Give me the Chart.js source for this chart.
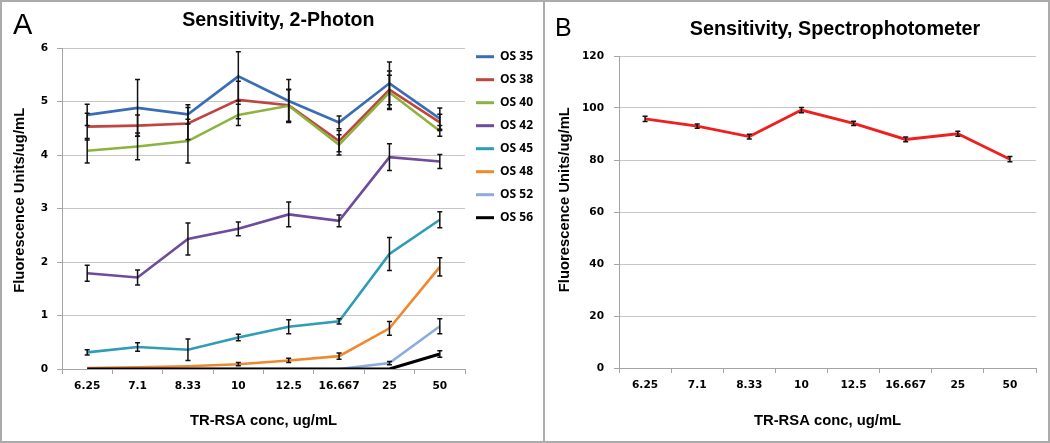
<!DOCTYPE html>
<html>
<head>
<meta charset="utf-8">
<script src="https://cdn.jsdelivr.net/npm/chart.js@4/dist/chart.umd.min.js"></script>
<style>
  html, body { margin:0; padding:0; background:#fff; }
  body { width:1050px; height:443px; position:relative; overflow:hidden; }
  canvas { position:absolute; top:0; }
  .frame { position:absolute; top:0; height:443px; box-sizing:border-box; border:2px solid #ABABAB; pointer-events:none; z-index:2; }
  .letter { position:absolute; font-family:"Liberation Sans", Arial, sans-serif; line-height:1; color:#000; z-index:3; }
</style>
</head>
<body>
<canvas id="chartA" width="543" height="443" style="left:0px"></canvas>
<canvas id="chartB" width="506" height="443" style="left:544px"></canvas>
<div class="frame" style="left:0px;width:545px;"></div>
<div class="frame" style="left:543px;width:507px;"></div>
<div class="letter" style="left:13px;top:10px;font-size:29px;">A</div>
<div class="letter" style="left:555px;top:15px;font-size:25px;">B</div>
<script>
// ---------- data ----------
const categories = ['6.25', '7.1', '8.33', '10', '12.5', '16.667', '25', '50'];
const seriesNames = ['OS 35', 'OS 38', 'OS 40', 'OS 42', 'OS 45', 'OS 48', 'OS 52', 'OS 56'];
const seriesColors = ['#3A6DB5', '#C0443F', '#8CB33E', '#6E4B9B', '#2E9DB5', '#F0882E', '#8FAADC', '#000000'];

const os35 = [4.75, 4.88, 4.76, 5.47, 5.01, 4.61, 5.34, 4.68];
const os38 = [4.53, 4.55, 4.59, 5.03, 4.93, 4.26, 5.22, 4.61];
const os40 = [4.08, 4.16, 4.26, 4.75, 4.92, 4.19, 5.17, 4.45];
const os42 = [1.79, 1.71, 2.43, 2.62, 2.89, 2.77, 3.96, 3.88];
const os45 = [0.31, 0.41, 0.36, 0.59, 0.79, 0.89, 2.15, 2.79];
const os48 = [0.02, 0.03, 0.05, 0.09, 0.16, 0.24, 0.76, 1.91];
const os52 = [0, 0, 0, 0, 0, 0, 0.11, 0.80];
const os56 = [0, 0, 0, 0, 0, 0, 0, 0.28];

const os35Err = [0.20, 0.53, 0.18, 0.46, 0.40, 0.12, 0.40, 0.20];
const os38Err = [0.25, 0.20, 0.30, 0.35, 0.30, 0.20, 0.35, 0.15];
const os40Err = [0.23, 0.25, 0.41, 0.20, 0.30, 0.19, 0.32, 0.10];
const os42Err = [0.15, 0.14, 0.30, 0.13, 0.23, 0.11, 0.25, 0.13];
const os45Err = [0.05, 0.08, 0.20, 0.06, 0.13, 0.05, 0.31, 0.15];
const os48Err = [0, 0, 0, 0.03, 0.04, 0.06, 0.13, 0.17];
const os52Err = [0, 0, 0, 0, 0, 0, 0.03, 0.14];
const os56Err = [0, 0, 0, 0, 0, 0, 0, 0.06];

const specValues = [95.8, 93.0, 89.0, 99.2, 94.1, 87.9, 90.1, 80.3];
const specErr = [1.0, 0.8, 0.9, 1.0, 0.8, 0.9, 1.0, 1.0];

const yTicksA = [0, 1, 2, 3, 4, 5, 6];
const yTicksB = [0, 20, 40, 60, 80, 100, 120];

const titleA = 'Sensitivity, 2-Photon';
const titleB = 'Sensitivity, Spectrophotometer';
const yTitle = 'Fluorescence Units/ug/mL';
const xTitle = 'TR-RSA conc, ug/mL';

// ---------- plugins ----------
const errorBars = {
  id: 'errorBars',
  afterDatasetsDraw(chart) {
    const ctx = chart.ctx;
    const y = chart.scales.y;
    ctx.save();
    ctx.strokeStyle = '#111';
    ctx.lineWidth = 1.5;
    chart.data.datasets.forEach((ds, di) => {
      if (!ds.errors) return;
      const meta = chart.getDatasetMeta(di);
      meta.data.forEach((pt, i) => {
        const e = ds.errors[i];
        if (!e) return;
        const v = ds.data[i];
        const yt = y.getPixelForValue(v + e);
        const yb = y.getPixelForValue(v - e);
        const x = pt.x;
        ctx.beginPath();
        ctx.moveTo(x, yt); ctx.lineTo(x, yb);
        ctx.moveTo(x - 2.5, yt); ctx.lineTo(x + 2.5, yt);
        ctx.moveTo(x - 2.5, yb); ctx.lineTo(x + 2.5, yb);
        ctx.stroke();
      });
    });
    ctx.restore();
  }
};

const titleShift = {
  id: 'titleShift',
  afterLayout(chart, args, opts) {
    const t = chart.titleBlock;
    if (t && opts.dx) { t.left += opts.dx; t.right += opts.dx; }
  }
};

const legendWidthFix = {
  id: 'legendWidthFix',
  beforeInit(chart, args, opts) {
    const lg = chart.legend;
    if (!lg || !opts.width) return;
    const orig = lg.fit;
    lg.fit = function () { orig.call(this); this.width = opts.width; };
  }
};

const tickFont = { family: '"DejaVu Sans", Verdana, sans-serif', size: 10.6, weight: 'bold' };
const axisTitleFont = { family: '"Liberation Sans", Arial, sans-serif', size: 14.8, weight: 'bold' };
const gridGray = '#C6C6C6';
const axisGray = '#A4A4A4';
const pad = (n) => '\u00a0'.repeat(n);

// ---------- chart A ----------
const seriesValues = [os35, os38, os40, os42, os45, os48, os52, os56];
const seriesErrors = [os35Err, os38Err, os40Err, os42Err, os45Err, os48Err, os52Err, os56Err];

const datasetsA = seriesNames.map((name, i) => ({
  label: name,
  data: seriesValues[i],
  errors: seriesErrors[i],
  borderColor: seriesColors[i],
  backgroundColor: seriesColors[i],
  borderWidth: i === 7 ? 3 : 2.6,
  pointRadius: 0,
  tension: 0,
  fill: false,
  order: seriesNames.length - i
}));

new Chart(document.getElementById('chartA'), {
  type: 'line',
  data: { labels: categories, datasets: datasetsA },
  options: {
    responsive: false,
    animation: false,
    devicePixelRatio: 1,
    layout: { padding: 0 },
    plugins: {
      tooltip: { enabled: false },
      titleShift: { dx: 6.8 },
      legendWidthFix: { width: 78 },
      title: {
        display: true, text: titleA, color: '#000',
        font: { family: '"Liberation Sans", Arial, sans-serif', size: 19.6, weight: 'bold' },
        padding: { top: 9.3, bottom: 15.2 }
      },
      legend: {
        position: 'right', align: 'start',
        title: { display: true, text: ' ', font: { size: 10 }, padding: { top: 27.7, bottom: 0 } },
        labels: {
          boxWidth: 18, boxHeight: 3, padding: 11, color: '#000',
          font: { family: '"Open Sans", sans-serif', size: 12, weight: 'bold' },
          generateLabels: (chart) => chart.data.datasets.map((ds, i) => ({
            text: ds.label, fillStyle: ds.borderColor, strokeStyle: ds.borderColor,
            lineWidth: 0, hidden: false, datasetIndex: i, fontColor: '#000'
          }))
        }
      }
    },
    scales: {
      x: {
        offset: true,
        grid: { offset: true, drawOnChartArea: false, tickLength: 5, color: axisGray },
        border: { color: axisGray },
        ticks: { padding: 6, color: '#000', font: tickFont, maxRotation: 0, autoSkip: false },
        title: { display: true, text: xTitle, color: '#000', font: axisTitleFont, padding: { top: 0, bottom: 13.7 } },
        afterFit: (s) => { s.height = 74; }
      },
      y: {
        min: yTicksA[0], max: yTicksA[yTicksA.length - 1],
        ticks: { stepSize: yTicksA[1] - yTicksA[0], padding: 8.8, color: '#000', font: tickFont },
        grid: { color: gridGray, tickLength: 5, tickColor: axisGray },
        border: { color: axisGray },
        title: { display: true, text: pad(4) + yTitle, color: '#000', font: axisTitleFont, padding: { top: 10.6, bottom: 0 } },
        afterFit: (s) => { s.width = 62; }
      }
    }
  },
  plugins: [errorBars, titleShift, legendWidthFix]
});

// ---------- chart B ----------
new Chart(document.getElementById('chartB'), {
  type: 'line',
  data: {
    labels: categories,
    datasets: [{
      label: 'Spectrophotometer',
      data: specValues,
      errors: specErr,
      borderColor: '#F01E1E',
      backgroundColor: '#F01E1E',
      borderWidth: 2.8,
      pointRadius: 0,
      tension: 0,
      fill: false
    }]
  },
  options: {
    responsive: false,
    animation: false,
    devicePixelRatio: 1,
    layout: { padding: { left: 0, right: 14, top: 0, bottom: 0 } },
    plugins: {
      tooltip: { enabled: false },
      legend: { display: false },
      titleShift: { dx: 45 },
      title: {
        display: true, text: titleB, color: '#000',
        font: { family: '"Liberation Sans", Arial, sans-serif', size: 19.75, weight: 'bold' },
        padding: { top: 18.15, bottom: 14.15 }
      }
    },
    scales: {
      x: {
        offset: true,
        grid: { offset: true, drawOnChartArea: false, tickLength: 5, color: axisGray },
        border: { color: axisGray },
        ticks: { padding: 5.5, color: '#000', font: tickFont, maxRotation: 0, autoSkip: false },
        title: { display: true, text: xTitle, color: '#000', font: axisTitleFont, padding: { top: 0, bottom: 13.7 } },
        afterFit: (s) => { s.height = 75; }
      },
      y: {
        min: yTicksB[0], max: yTicksB[yTicksB.length - 1],
        ticks: { stepSize: yTicksB[1] - yTicksB[0], padding: 10, color: '#000', font: tickFont },
        grid: { color: gridGray, tickLength: 5, tickColor: axisGray },
        border: { color: axisGray },
        title: { display: true, text: pad(6) + yTitle, color: '#000', font: axisTitleFont, padding: { top: 11.6, bottom: 0 } },
        afterFit: (s) => { s.width = 75; }
      }
    }
  },
  plugins: [errorBars, titleShift]
});
</script>
</body>
</html>
